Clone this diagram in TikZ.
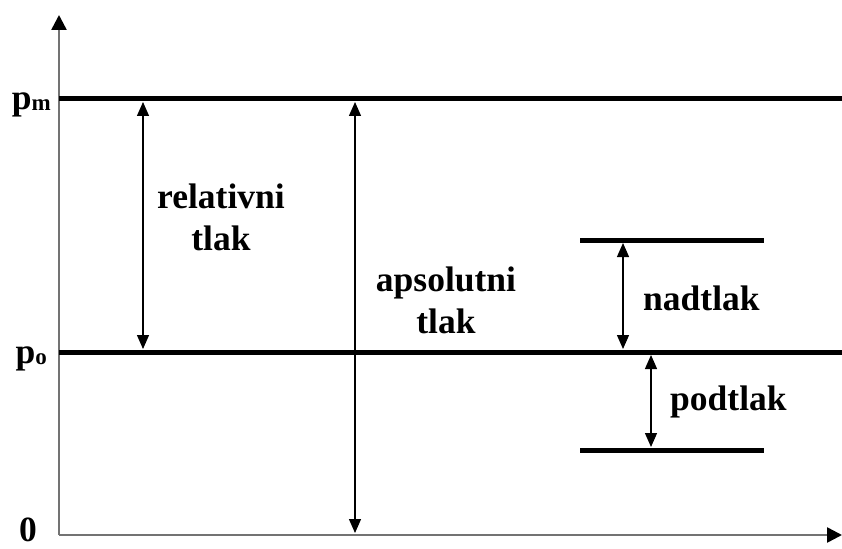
\documentclass[tikz,border=0pt]{standalone}
\usepackage{fontspec}
\setmainfont{Liberation Serif}
\usetikzlibrary{arrows.meta}
\newcommand{\lbl}{\fontsize{35.5}{42}\selectfont\bfseries}
\newcommand{\subs}[1]{\raisebox{-1pt}{\fontsize{23}{23}\selectfont #1}}
\begin{document}
\begin{tikzpicture}[x=1pt,y=-1pt,
        level/.style={draw=black,line width=5pt},
        axis/.style={draw=black!55,line width=2.5pt,
            -{Triangle[length=15pt,width=15pt,color=black]}},
        dim/.style={draw=black,line width=1.3pt,
            {Triangle[length=14pt,width=12pt]}-{Triangle[length=14pt,width=12pt]}},
        every node/.style={font=\lbl,inner sep=0pt,align=center}]
    \useasboundingbox (0,0) rectangle (842,548);
    % axes
    \coordinate (origin) at (59,535);
    \coordinate (ytop) at (59,15);
    \coordinate (xend) at (842,535);
    \draw[axis] (origin) -- (ytop);
    \draw[axis] (origin) -- (xend);
    % pressure levels
    \coordinate (pmL) at (59,99);   \coordinate (pmR) at (842,99);
    \coordinate (poL) at (59,352);  \coordinate (poR) at (842,352);
    \coordinate (hiL) at (580,240); \coordinate (hiR) at (764,240);
    \coordinate (loL) at (580,450); \coordinate (loR) at (764,450);
    \draw[level] (pmL) -- (pmR);
    \draw[level] (poL) -- (poR);
    \draw[level] (hiL) -- (hiR);
    \draw[level] (loL) -- (loR);
    % axis labels
    \node[anchor=base east] (pm) at (51,110) {p\subs{m}};
    \node[anchor=base east] (po) at (47,363) {p\subs{o}};
    \node[anchor=base east] (zero) at (37,541) {0};
    % dimension arrows
    \coordinate (relT) at (143,102); \coordinate (relB) at (143,349);
    \coordinate (absT) at (355,102); \coordinate (absB) at (355,533);
    \coordinate (nadT) at (623,243); \coordinate (nadB) at (623,349);
    \coordinate (podT) at (651,355); \coordinate (podB) at (651,447);
    \draw[dim] (relT) -- (relB);
    \draw[dim] (absT) -- (absB);
    \draw[dim] (nadT) -- (nadB);
    \draw[dim] (podT) -- (podB);
    % texts
    \node[anchor=base] (rel) at (221,250) {relativni\\tlak};
    \node[anchor=base] (abs) at (446,333) {apsolutni\\tlak};
    \node[anchor=base west] (nad) at (643,310) {nadtlak};
    \node[anchor=base west] (pod) at (670,410) {podtlak};
\end{tikzpicture}
\end{document}
